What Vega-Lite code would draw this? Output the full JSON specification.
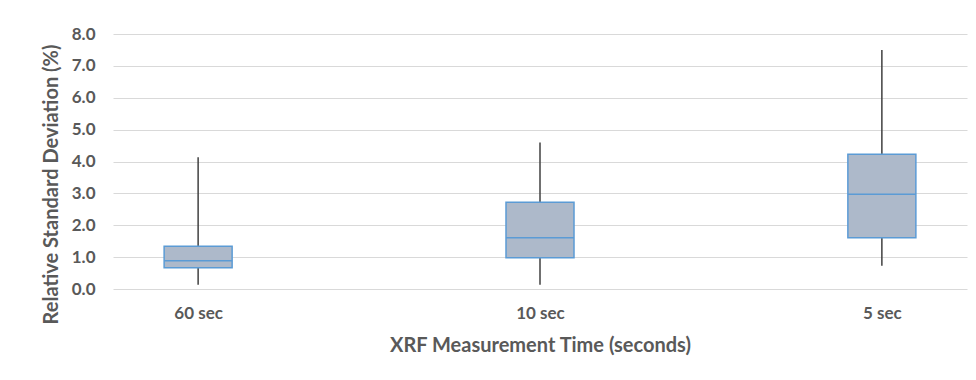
{
  "$schema": "https://vega.github.io/schema/vega-lite/v6.json",
  "width": 854,
  "height": 255,
  "autosize": {"type": "none"},
  "padding": {"left": 113, "top": 34, "right": 9, "bottom": 91},
  "background": "white",
  "data": {
    "values": [
      {"time": "60 sec", "min": 0.13, "q1": 0.67, "median": 0.89, "q3": 1.34, "max": 4.13},
      {"time": "10 sec", "min": 0.13, "q1": 0.98, "median": 1.61, "q3": 2.72, "max": 4.6},
      {"time": "5 sec", "min": 0.73, "q1": 1.61, "median": 2.97, "q3": 4.23, "max": 7.5}
    ]
  },
  "encoding": {
    "x": {
      "field": "time",
      "type": "nominal",
      "sort": ["60 sec", "10 sec", "5 sec"],
      "scale": {"type": "point", "padding": 0.249},
      "axis": {
        "title": "XRF Measurement Time (seconds)",
        "labelAngle": 0,
        "ticks": false,
        "domain": false,
        "grid": false,
        "labelPadding": 16,
        "titlePadding": 14
      }
    }
  },
  "layer": [
    {
      "mark": {"type": "rule", "color": "#404040", "strokeWidth": 1.5},
      "encoding": {
        "y": {
          "field": "min",
          "type": "quantitative",
          "scale": {"domain": [0, 8], "nice": false},
          "axis": {
            "title": "Relative Standard Deviation (%)",
            "format": ".1f",
            "values": [0, 1, 2, 3, 4, 5, 6, 7, 8],
            "labelOverlap": false,
            "labelFlush": false,
            "ticks": false,
            "domain": false,
            "labelPadding": 18,
            "titlePadding": 10,
            "titleY": 150,
            "gridColor": "#D9D9D9",
            "gridWidth": 1.2
          }
        },
        "y2": {"field": "max"}
      }
    },
    {
      "mark": {"type": "bar", "size": 68, "fill": "#ADB9CA", "stroke": "#5B9BD5", "strokeWidth": 1.5},
      "encoding": {
        "y": {
          "field": "q1",
          "type": "quantitative",
          "axis": {
            "title": "Relative Standard Deviation (%)",
            "format": ".1f",
            "values": [0, 1, 2, 3, 4, 5, 6, 7, 8],
            "labelOverlap": false,
            "labelFlush": false,
            "ticks": false,
            "domain": false,
            "labelPadding": 18,
            "titlePadding": 10,
            "titleY": 150,
            "gridColor": "#D9D9D9",
            "gridWidth": 1.2
          }
        },
        "y2": {"field": "q3"}
      }
    },
    {
      "mark": {"type": "tick", "size": 68, "thickness": 1.5, "color": "#5B9BD5", "opacity": 1},
      "encoding": {
        "y": {
          "field": "median",
          "type": "quantitative",
          "axis": {
            "title": "Relative Standard Deviation (%)",
            "format": ".1f",
            "values": [0, 1, 2, 3, 4, 5, 6, 7, 8],
            "labelOverlap": false,
            "labelFlush": false,
            "ticks": false,
            "domain": false,
            "labelPadding": 18,
            "titlePadding": 10,
            "titleY": 150,
            "gridColor": "#D9D9D9",
            "gridWidth": 1.2
          }
        }
      }
    }
  ],
  "config": {
    "view": {"stroke": null},
    "axis": {
      "labelFont": "Lato",
      "labelFontWeight": "bold",
      "labelFontSize": 17,
      "labelColor": "#595959",
      "titleFont": "Lato",
      "titleFontWeight": "bold",
      "titleFontSize": 20,
      "titleColor": "#595959"
    }
  }
}
